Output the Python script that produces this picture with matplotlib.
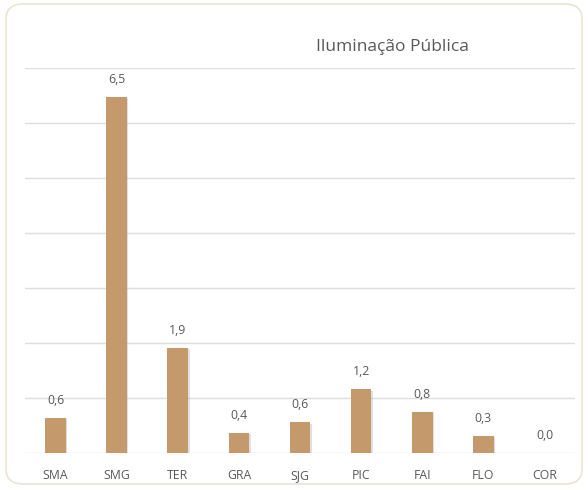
import matplotlib
matplotlib.use("Agg")
from matplotlib import pyplot as plt
from matplotlib.patches import FancyBboxPatch
import matplotlib.patheffects as pe

# data
regions = ["SMA", "SMG", "TER", "GRA", "SJG", "PIC", "FAI", "FLO", "COR"]
values = [0.64, 6.48, 1.91, 0.37, 0.56, 1.16, 0.75, 0.31, 0.0]

plt.rcParams['font.family'] = ['Open Sans', 'DejaVu Sans']
txt_color = '#595959'
bar_color = '#c4996b'

fig = plt.figure(figsize=(5.88, 4.9), dpi=100)
fig.patch.set_facecolor('white')

# rounded outer frame, kept behind the axes
frame = FancyBboxPatch((6/588, 6/490), 576/588, 480/490,
                       boxstyle="round,pad=0,rounding_size=0.03",
                       transform=fig.transFigure, fc='white', ec='#ebe4d3', lw=1.2,
                       zorder=-5)
fig.patches.append(frame)

ax = fig.add_axes([25/588, 1 - 453/490, 550/588, 385/490])
ax.set_facecolor('none')
ax.set_zorder(2)

x = range(len(regions))
bars = ax.bar(x, values, width=0.34, color=bar_color, zorder=3)
for b in bars:
    b.set_path_effects([pe.SimplePatchShadow(offset=(1, -1), shadow_rgbFace='#999999', alpha=0.3),
                        pe.Normal()])

for xi, v in zip(x, values):
    ax.text(xi, v + 0.2, "{:.1f}".format(v).replace('.', ','), ha='center', va='bottom',
            fontsize=8.8, color=txt_color)

ax.set_xlim(-0.5, len(regions) - 0.5)
ax.set_ylim(0, 7)
ax.set_yticks(range(0, 8))
ax.yaxis.grid(True, color='#dedede', lw=1, zorder=0)
ax.set_axisbelow(True)
ax.tick_params(axis='y', left=False, labelleft=False)
ax.tick_params(axis='x', bottom=False, colors=txt_color, labelsize=8.8, pad=8)
ax.set_xticks(list(x))
ax.set_xticklabels(regions)
for s in ax.spines.values():
    s.set_visible(False)

fig.text(392/588, 1 - 47/490, "Iluminação Pública", ha='center', va='center',
         fontsize=12.5, color=txt_color)

fig.savefig("out.png", dpi=100)
